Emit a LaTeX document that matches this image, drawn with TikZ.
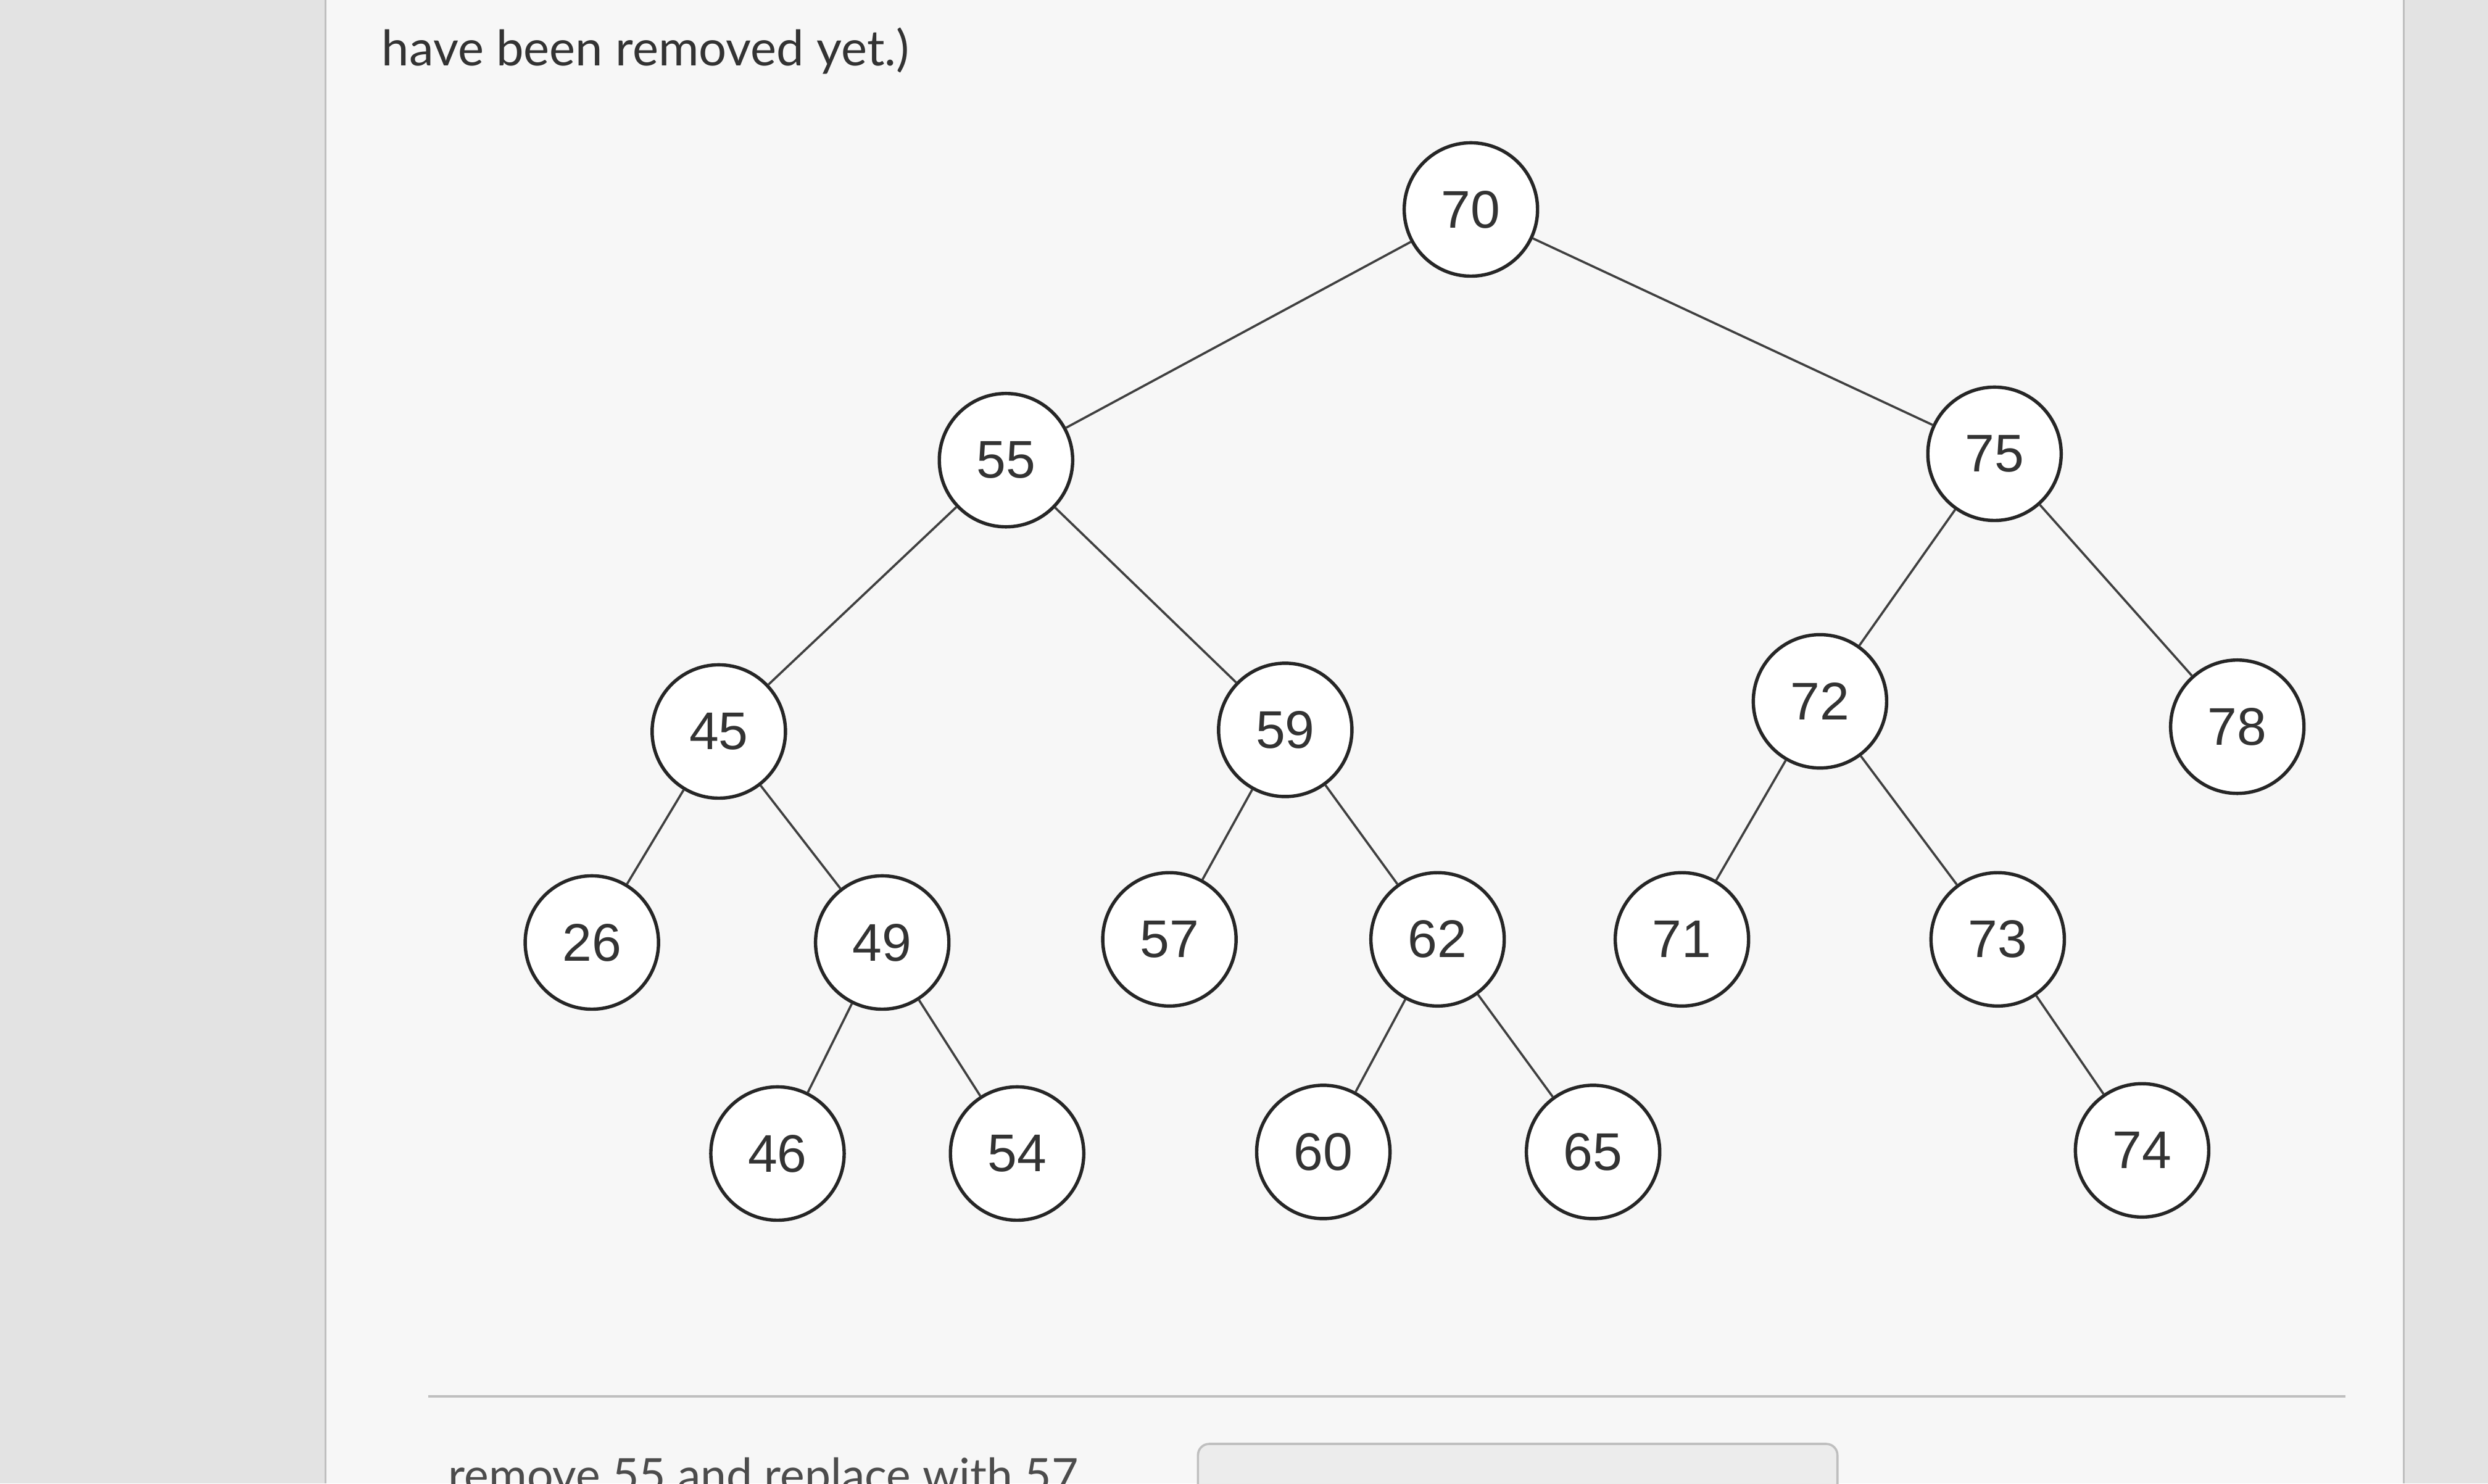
\documentclass[tikz,border=0pt]{standalone}
\usepackage{fontspec}
\setmainfont{Liberation Sans}
\newfontfamily\latofont{Lato}
\begin{document}
\begin{tikzpicture}[x=0.01cm,y=-0.01cm,
  nd/.style={circle,draw=black!85,line width=0.6pt,minimum size=0.84cm,inner sep=0pt,fill=white,font=\fontsize{9.5}{11}\selectfont,text=black!80},
  ed/.style={draw=black!75,line width=0.4pt}]
\useasboundingbox (0,0) rectangle (1568,935);
\fill[gray!22] (0,0) rectangle (1568,935);
\fill[gray!6] (205,0) rectangle (1515,935);
\draw[gray!50,line width=0.3pt] (205,0) -- (205,935);
\draw[gray!50,line width=0.3pt] (1515,0) -- (1515,935);
\node[anchor=west,inner sep=0pt,font=\latofont\fontsize{8.8}{11}\selectfont,text=black!80] (hd) at (240,32) {have been removed yet.)};
\coordinate (la) at (270,880); \coordinate (lb) at (1478,880);
\draw[gray!50,line width=0.4pt] (la) -- (lb);
\node[anchor=west,inner sep=0pt,font=\latofont\fontsize{8.3}{10}\selectfont,text=black!70] (ft) at (282,932) {remove 55 and replace with 57};
\draw[gray!50,fill=gray!15,rounded corners=2pt] (755,910) rectangle (1158,945);
\node[nd] (n70) at (927,132) {70};
\node[nd] (n55) at (634,290) {55};
\node[nd] (n75) at (1257,286) {75};
\node[nd] (n45) at (453,461) {45};
\node[nd] (n59) at (810,460) {59};
\node[nd] (n72) at (1147,442) {72};
\node[nd] (n78) at (1410,458) {78};
\node[nd] (n26) at (373,594) {26};
\node[nd] (n49) at (556,594) {49};
\node[nd] (n57) at (737,592) {57};
\node[nd] (n62) at (906,592) {62};
\node[nd] (n71) at (1060,592) {71};
\node[nd] (n73) at (1259,592) {73};
\node[nd] (n46) at (490,727) {46};
\node[nd] (n54) at (641,727) {54};
\node[nd] (n60) at (834,726) {60};
\node[nd] (n65) at (1004,726) {65};
\node[nd] (n74) at (1350,725) {74};
\foreach \a/\b in {70/55,70/75,55/45,55/59,45/26,45/49,49/46,49/54,59/57,59/62,62/60,62/65,75/72,75/78,72/71,72/73,73/74}
  \draw[ed] (n\a) -- (n\b);
\end{tikzpicture}
\end{document}
